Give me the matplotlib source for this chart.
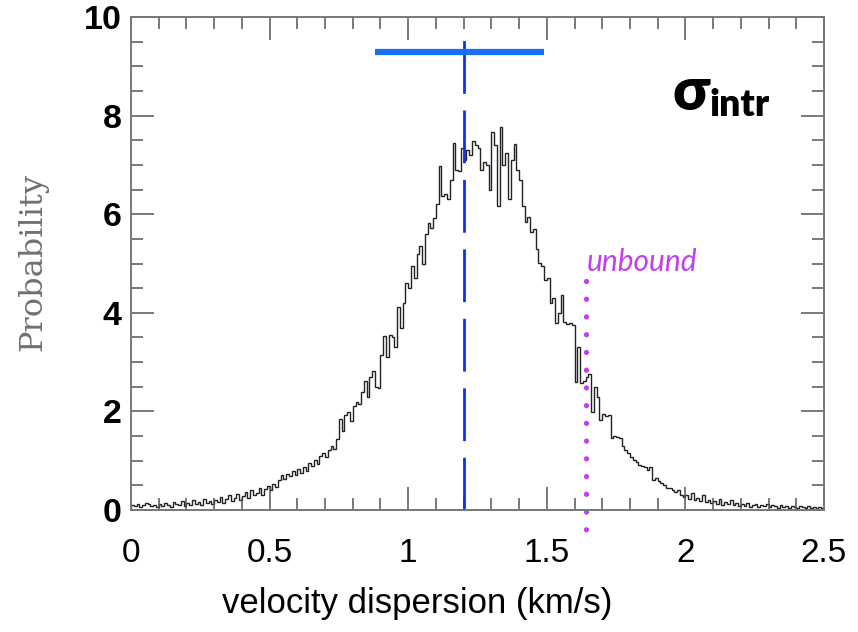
import numpy as np
import matplotlib
matplotlib.use("Agg")
import matplotlib.pyplot as plt
from matplotlib.ticker import MultipleLocator

# posterior of the intrinsic velocity dispersion, bins of 0.01 km/s from 0 to 2.5
PROB = [
	0.10, 0.08, 0.12, 0.06, 0.10, 0.14, 0.12, 0.08, 0.10, 0.06,
	0.12, 0.08, 0.14, 0.10, 0.06, 0.16, 0.12, 0.10, 0.18, 0.08,
	0.14, 0.10, 0.20, 0.12, 0.16, 0.10, 0.22, 0.14, 0.18, 0.12,
	0.20, 0.16, 0.26, 0.14, 0.22, 0.30, 0.18, 0.24, 0.32, 0.20,
	0.28, 0.36, 0.24, 0.40, 0.30, 0.34, 0.44, 0.30, 0.42, 0.48,
	0.40, 0.52, 0.46, 0.60, 0.70, 0.62, 0.74, 0.68, 0.80, 0.72,
	0.84, 0.76, 0.88, 0.80, 0.96, 0.90, 1.02, 0.94, 1.10, 1.16,
	1.08, 1.22, 1.30, 1.24, 1.44, 1.84, 1.60, 1.92, 1.98, 1.80,
	2.10, 2.20, 2.16, 2.40, 2.62, 2.30, 2.70, 2.82, 2.50, 2.48,
	3.15, 3.52, 3.10, 3.54, 3.50, 3.30, 4.12, 3.70, 4.20, 4.60,
	4.50, 4.94, 4.70, 5.20, 5.35, 5.00, 5.60, 5.83, 5.72, 5.93,
	6.20, 6.98, 6.36, 6.40, 6.30, 6.70, 7.45, 6.90, 6.87, 7.35,
	7.10, 7.30, 7.20, 7.48, 7.40, 7.35, 6.90, 7.05, 7.00, 6.50,
	7.66, 7.40, 6.16, 7.76, 7.00, 7.25, 6.30, 7.10, 7.42, 6.90,
	6.70, 6.16, 5.85, 5.95, 5.63, 5.70, 5.30, 5.02, 4.94, 4.67,
	4.70, 4.20, 4.30, 3.80, 4.00, 4.37, 3.82, 3.78, 3.80, 3.76,
	2.60, 3.31, 2.58, 2.62, 2.70, 2.75, 1.99, 2.50, 2.30, 1.83,
	1.95, 1.90, 1.93, 1.46, 1.50, 1.48, 1.46, 1.30, 1.22, 1.16,
	1.08, 1.02, 0.98, 0.92, 0.90, 0.87, 0.82, 0.87, 0.61, 0.64,
	0.58, 0.54, 0.50, 0.45, 0.44, 0.40, 0.36, 0.40, 0.30, 0.26,
	0.30, 0.22, 0.34, 0.20, 0.24, 0.18, 0.30, 0.16, 0.20, 0.14,
	0.18, 0.12, 0.22, 0.10, 0.16, 0.12, 0.20, 0.10, 0.14, 0.08,
	0.12, 0.08, 0.14, 0.06, 0.10, 0.12, 0.06, 0.10, 0.08, 0.12,
	0.06, 0.10, 0.08, 0.04, 0.10, 0.06, 0.08, 0.04, 0.08, 0.06,
	0.04, 0.08, 0.06, 0.04, 0.08, 0.04, 0.06, 0.03, 0.06, 0.04,
]
X_MIN, X_MAX = 0.0, 2.5

MEDIAN = 1.2
MEDIAN_TOP = 9.7
ERR_LO, ERR_HI = 0.88, 1.49
ERR_Y = 9.3

UNBOUND_X = 1.64
UNBOUND_TOP, UNBOUND_BOTTOM = 4.65, -0.42

X_TICKS = [0, 0.5, 1, 1.5, 2, 2.5]
X_TICK_LABELS = ["0", "0.5", "1", "1.5", "2", "2.5"]
Y_TICKS = [0, 2, 4, 6, 8, 10]

W, H = 858, 632
fig = plt.figure(figsize=(W / 100, H / 100), dpi=100)
ax = fig.add_axes([131 / W, 1 - 510 / H, (824 - 131) / W, (510 - 17) / H])

edges = np.linspace(X_MIN, X_MAX, len(PROB) + 1)
ax.stairs(PROB, edges, color="#222222", linewidth=1.0)

# median and its interval
ax.plot([MEDIAN, MEDIAN], [0, MEDIAN_TOP], color="#1030f0", linewidth=2.0,
	linestyle=(0, (19, 6)))
ax.plot([ERR_LO, ERR_HI], [ERR_Y, ERR_Y], color="#1a6ef5", linewidth=4.5,
	solid_capstyle="butt")

# boundary above which the system is unbound
ax.plot([UNBOUND_X, UNBOUND_X], [UNBOUND_TOP, UNBOUND_BOTTOM], color="#c040f0",
	linewidth=3.8, linestyle=(0, (0.01, 3.35)), dash_capstyle="round", clip_on=False)
ax.text(UNBOUND_X + 0.005, 4.85, "unbound", color="#c040f0", fontsize=21.5,
	family="Lato", style="italic", ha="left", va="baseline")

ax.text(1.955, 8.12, "σ", fontsize=42, fontweight="heavy", family="Lato",
	ha="left", va="baseline")
ax.text(2.088, 8.0, "intr", fontsize=27, fontweight="heavy", family="Lato",
	ha="left", va="baseline")

ax.set_xlim(X_MIN, X_MAX)
ax.set_ylim(0, 10)
ax.set_xticks(X_TICKS)
ax.set_xticklabels(X_TICK_LABELS, family="Liberation Sans", fontsize=24)
ax.set_yticks(Y_TICKS)
ax.set_yticklabels([str(t) for t in Y_TICKS], family="Liberation Sans",
	fontsize=24.5, fontweight="bold")
ax.xaxis.set_minor_locator(MultipleLocator(0.1))
ax.yaxis.set_minor_locator(MultipleLocator(0.5))
ax.tick_params(which="both", direction="in", top=True, right=True, color="#555555", width=1.1)
ax.tick_params(which="major", length=16.5)
ax.tick_params(which="minor", length=8.5)
ax.tick_params(axis="x", which="major", pad=20)
ax.tick_params(axis="y", which="major", pad=7)
for spine in ax.spines.values():
	spine.set_color("#777777")
	spine.set_linewidth(1.4)

fig.text(417 / W, 1 - 604 / H, "velocity dispersion (km/s)", family="Liberation Sans",
	fontsize=25, ha="center", va="center")
fig.text(33 / W, 1 - 262 / H, "Probability", family="DejaVu Serif", fontsize=23,
	color="#707070", rotation=90, ha="center", va="center")

fig.savefig("out.png", dpi=100)
